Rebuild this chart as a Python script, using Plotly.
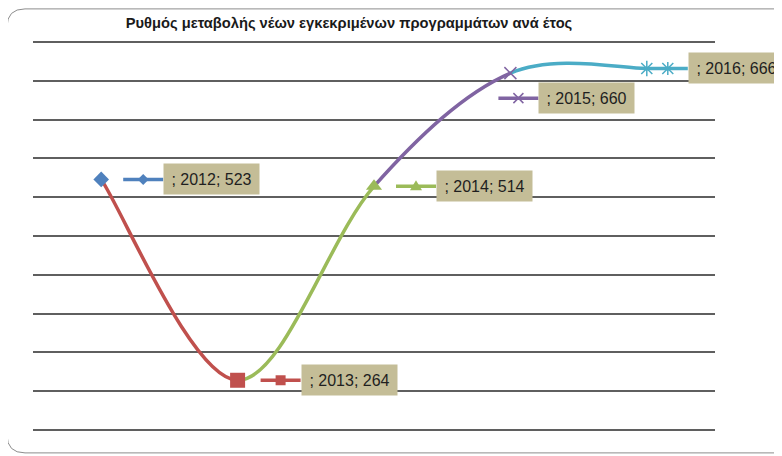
import plotly.graph_objects as go

# Δεδομένα
years = [2012, 2013, 2014, 2015, 2016]
values = [523, 264, 514, 660, 666]
labels = [f"; {y}; {v}" for y, v in zip(years, values)]

# Στυλ ανά σημείο (χρώματα τύπου Excel)
colors = ['#4F81BD', '#C0504D', '#9BBB59', '#8064A2', '#4BACC6']
symbols = ['diamond', 'square', 'triangle-up', 'x-thin-open', 'asterisk-open']
sizes = [12, 15, 14, 12, 13]
# θέση ετικέτας: αριστερή άκρη κουτιού (px δεξιά του σημείου), μετατόπιση προς τα κάτω (px)
label_dx = [62, 63, 62, 28, 41]
label_dy = [0, 0, 0, 25, 0]

# η σελίδα έχει περιθώριο 8px, οπότε το σχήμα μικραίνει αντίστοιχα
PAGE_OFF = 8
FIG_W, FIG_H = 782 - PAGE_OFF, 456 - PAGE_OFF
Y_MIN, Y_MAX, PAD = 200, 700, 4
SCALE = 388 / (Y_MAX - Y_MIN)          # px ανά μονάδα
L, W = 33 - PAGE_OFF, 682
T = 42 - PAGE_OFF - PAD * SCALE
H = 388 + 2 * PAD * SCALE
xs = list(range(len(years)))


def smooth_segments(xv, yv):
    """Καμπύλες Bezier σαν το 'smoothed line' του Excel"""
    n = len(xv)
    segs = []
    for i in range(n - 1):
        pm = i - 1 if i > 0 else i
        pn = i + 2 if i + 2 < n else i + 1
        c1x = xv[i] + (xv[i + 1] - xv[pm]) / 6
        c1y = yv[i] + (yv[i + 1] - yv[pm]) / 6
        c2x = xv[i + 1] - (xv[pn] - xv[i]) / 6
        c2y = yv[i + 1] - (yv[pn] - yv[i]) / 6
        segs.append(f"M {xv[i]},{yv[i]} C {c1x},{c1y} {c2x},{c2y} {xv[i+1]},{yv[i+1]}")
    return segs


def marker_path(sym, cx, cy):
    if sym == 'diamond':
        r = 5.5
        return f"M {cx-r},{cy} L {cx},{cy+r} L {cx+r},{cy} L {cx},{cy-r} Z"
    if sym == 'square':
        r = 5
        return f"M {cx-r},{cy-r} L {cx+r},{cy-r} L {cx+r},{cy+r} L {cx-r},{cy+r} Z"
    if sym == 'triangle-up':
        return f"M {cx-6},{cy-4} L {cx+6},{cy-4} L {cx},{cy+6} Z"
    if sym == 'x-thin-open':
        r = 5
        return (f"M {cx-r},{cy-r} L {cx+r},{cy+r} M {cx-r},{cy+r} L {cx+r},{cy-r}")
    r = 5.5
    return (f"M {cx-r},{cy-r} L {cx+r},{cy+r} M {cx-r},{cy+r} L {cx+r},{cy-r} "
            f"M {cx},{cy-r-1} L {cx},{cy+r+1}")


def rounded_rect(x0, y0, x1, y1, r):
    return (f"M {x0+r},{y1} L {x1-r},{y1} Q {x1},{y1} {x1},{y1-r} "
            f"L {x1},{y0+r} Q {x1},{y0} {x1-r},{y0} L {x0+r},{y0} "
            f"Q {x0},{y0} {x0},{y0+r} L {x0},{y1-r} Q {x0},{y1} {x0+r},{y1} Z")


fig = go.Figure()

shapes = []
# περίγραμμα γραφήματος (px σε σχέση με την κάτω-αριστερή γωνία της περιοχής σχεδίασης)
bottom = 42 + H - PAD * SCALE          # y της σελίδας για την κάτω άκρη
shapes.append(dict(type='path', xref='paper', yref='paper',
                   xsizemode='pixel', ysizemode='pixel', xanchor=0, yanchor=0,
                   path=rounded_rect(7 - 33, bottom - 453, 795 - 33, bottom - 9, 18),
                   line=dict(color='#8c8c8c', width=1), layer='below'))

# καμπύλες, κάθε τμήμα με το χρώμα του επόμενου σημείου
for i, p in enumerate(smooth_segments(xs, values)):
    shapes.append(dict(type='path', xref='x', yref='y', path=p,
                       line=dict(color=colors[i + 1], width=3.5), layer='between'))

# κλειδιά υπομνήματος δίπλα στις ετικέτες
for i in range(len(years)):
    dx, dy = label_dx[i], label_dy[i]
    shapes.append(dict(type='line', xref='x', yref='y',
                       xsizemode='pixel', ysizemode='pixel',
                       xanchor=xs[i], yanchor=values[i],
                       x0=dx - 40, x1=dx, y0=-dy, y1=-dy,
                       line=dict(color=colors[i], width=3.5)))
    open_sym = symbols[i] in ('x-thin-open', 'asterisk-open')
    shapes.append(dict(type='path', xref='x', yref='y',
                       xsizemode='pixel', ysizemode='pixel',
                       xanchor=xs[i], yanchor=values[i],
                       path=marker_path(symbols[i], dx - 20, -dy),
                       fillcolor=None if open_sym else colors[i],
                       line=dict(color=colors[i], width=1.5 if open_sym else 0)))

for i in range(len(years)):
    open_sym = symbols[i] in ('x-thin-open', 'asterisk-open')
    fig.add_trace(go.Scatter(
        x=[xs[i]], y=[values[i]], mode='markers',
        marker=dict(symbol=symbols[i], size=sizes[i], color=colors[i],
                    line=dict(color=colors[i], width=1.5 if open_sym else 0)),
        hoverinfo='text', hovertext=f"{years[i]}: {values[i]}",
        showlegend=False
    ))

for i in range(len(years)):
    fig.add_annotation(
        x=xs[i], y=values[i], xref='x', yref='y',
        text=labels[i], showarrow=False,
        xanchor='left', yanchor='middle',
        xshift=label_dx[i], yshift=-label_dy[i],
        width=93, height=28, align='center',
        bgcolor='#C4BD97',
        font=dict(family='Liberation Sans', size=16, color='#1f1f1f')
    )

fig.update_layout(
    title=dict(
        text="<b>Ρυθμός μεταβολής νέων εγκεκριμένων προγραμμάτων ανά έτος</b>",
        font=dict(family='Liberation Sans', size=14.7, color='#1a1a1a'),
        x=(349 - PAGE_OFF) / FIG_W, xanchor='center',
        y=1 - (23 - PAGE_OFF) / FIG_H, yanchor='middle'
    ),
    shapes=shapes,
    showlegend=False,
    xaxis=dict(range=[-0.5, 4.5], showgrid=False, zeroline=False,
               showticklabels=False, showline=False, fixedrange=True),
    yaxis=dict(range=[Y_MIN - PAD, Y_MAX + PAD], tick0=Y_MIN, dtick=50, showgrid=True,
               gridcolor='#5f5f5f', gridwidth=2, zeroline=False,
               showticklabels=False, showline=False, fixedrange=True),
    plot_bgcolor='white',
    paper_bgcolor='white',
    width=FIG_W,
    height=FIG_H,
    margin=dict(l=L, r=FIG_W - L - W, t=T, b=FIG_H - T - H)
)

fig.write_html("out.html")
